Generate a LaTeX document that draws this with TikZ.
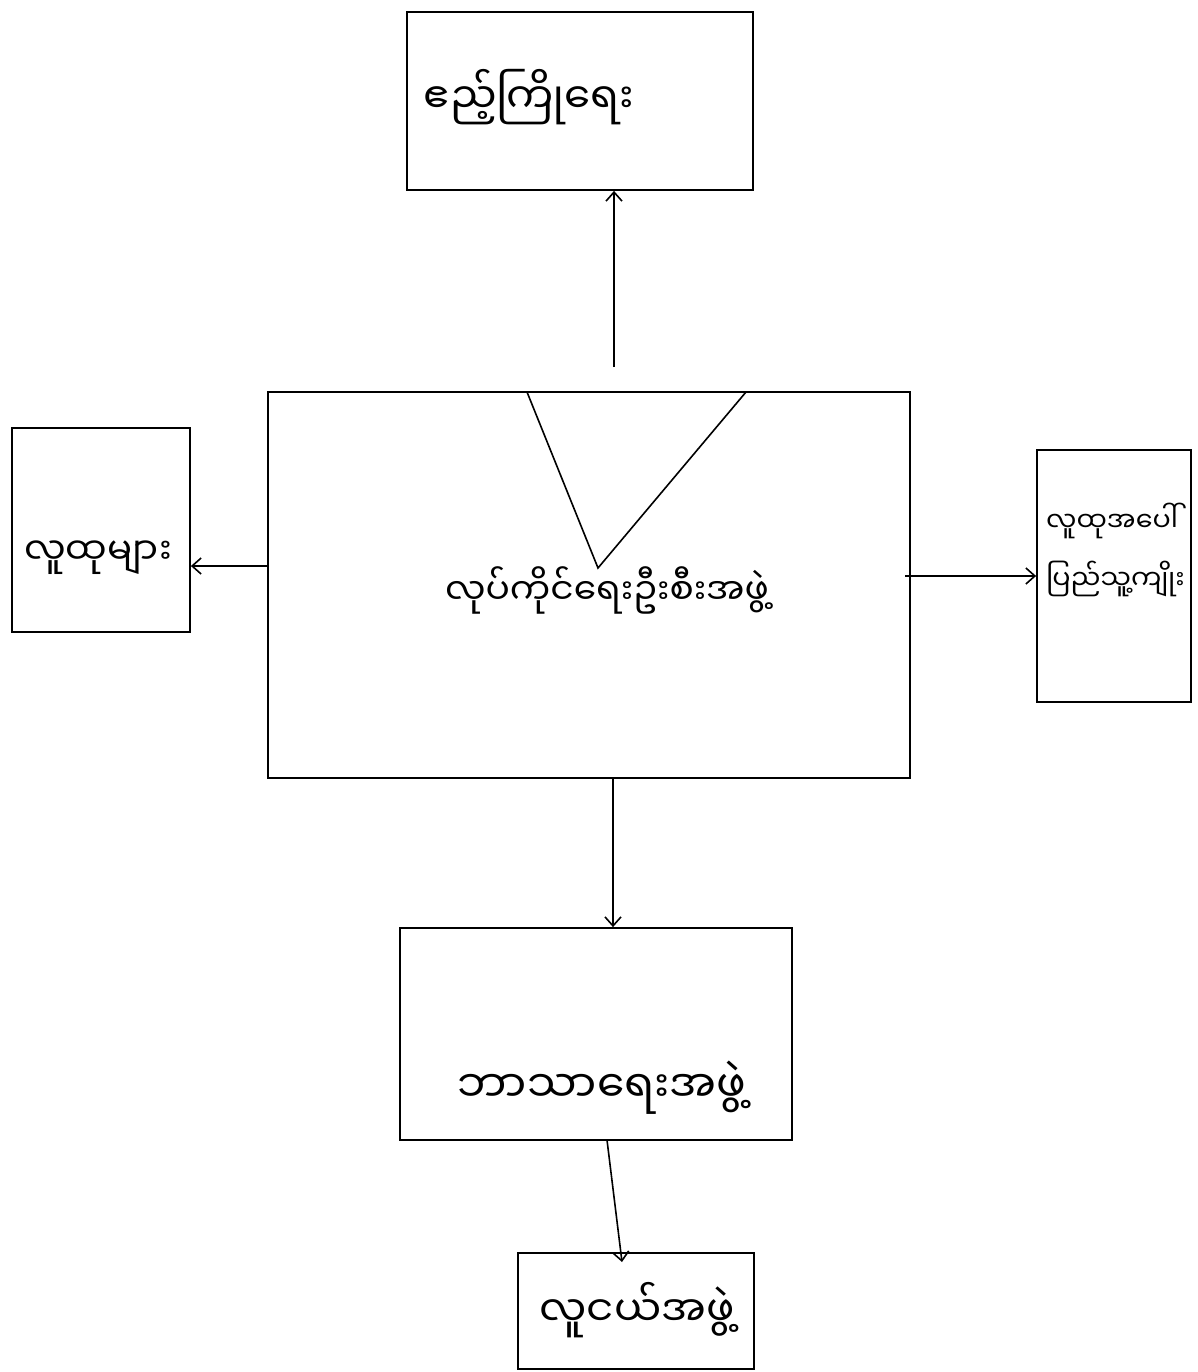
\documentclass[tikz,border=0pt]{standalone}
\usepackage{fontspec}
\newfontfamily\mya[Script=Myanmar]{Noto Sans Myanmar UI}
\usetikzlibrary{arrows.meta,calc}
\begin{document}
\begin{tikzpicture}[x=1pt,y=-1pt,
  box/.style={draw, line width=1.8pt, inner sep=0pt},
  lbl/.style={font=\mya\fontsize{#1}{#1}\selectfont, inner sep=0pt},
  twolines/.style={font=\mya\fontsize{27}{58}\selectfont, inner sep=0pt, align=left},
  arr/.style={line width=1.6pt, -{Straight Barb[length=9pt,width=16pt,line width=1.6pt]}},
  edge/.style={line width=1.6pt}]
\useasboundingbox (0,0) rectangle (1198,1372);
\fill[white] (0,0) rectangle (1198,1372);

% boxes
\node[box, minimum width=346pt, minimum height=178pt] (top) at (580,101) {};
\node[box, minimum width=642pt, minimum height=386pt] (ctr) at (589,585) {};
\node[box, minimum width=178pt, minimum height=204pt] (left) at (101,530) {};
\node[box, minimum width=154pt, minimum height=252pt] (right) at (1114,576) {};
\node[box, minimum width=392pt, minimum height=212pt] (bot) at (596,1034) {};
\node[box, minimum width=236pt, minimum height=116pt] (bm) at (636,1311) {};

% triangle inside the central box
\coordinate (triA) at (527,392);
\coordinate (triB) at (598,568);
\coordinate (triC) at (746,392);
\draw[edge] (triA) -- (triB) -- (triC);

% labels
\node[lbl=42] (ttop) at (529,97) {ဧည့်ကြိုရေး};
\node[lbl=37] (tleft) at (98,558) {လူထုများ};
\node[lbl=36] (tctr) at (607,590) {လုပ်ကိုင်ရေးဦးစီးအဖွဲ့};
\node[twolines, anchor=west] (tright) at (1046,550) {လူထုအပေါ်\\ပြည်သူ့ကျိုး};
\node[lbl=44] (tbot) at (602,1088) {ဘာသာရေးအဖွဲ့};
\node[lbl=42] (tbm) at (637,1310) {လူငယ်အဖွဲ့};

% connectors
\coordinate (upstart) at (614,367);
\draw[arr] (upstart) -- (upstart |- top.south);
\coordinate (lstart) at (268,566);
\draw[arr] (lstart) -- (lstart -| left.east);
\coordinate (rstart) at (905,576);
\draw[arr] (rstart) -- (rstart -| right.west);
\coordinate (dstart) at (613,778);
\draw[arr] (dstart) -- (dstart |- bot.north);
\coordinate (bmstart) at (607,1140);
\coordinate (bmend) at (622,1262);
\draw[arr] (bmstart) -- (bmend);
\end{tikzpicture}
\end{document}
